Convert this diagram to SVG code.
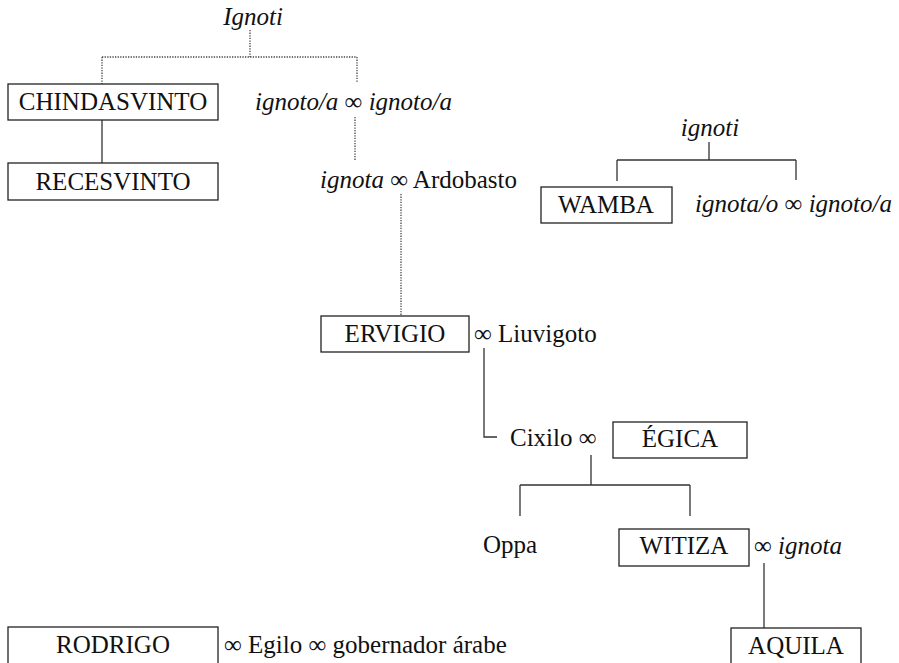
<svg xmlns="http://www.w3.org/2000/svg" width="899" height="663" viewBox="0 0 899 663">
<style>
text{font-family:"Liberation Serif","Times New Roman",serif;font-size:25px;fill:#111}
.i{font-style:italic}
.c{text-anchor:middle}
.box{fill:#fff;stroke:#222;stroke-width:1.3}
.s{fill:none;stroke:#333;stroke-width:1.3}
.d{fill:none;stroke:#444;stroke-width:1.3;stroke-dasharray:1.3 1.3}
</style>
<rect width="899" height="663" fill="#fff"/>
<g id="connectors">
<path class="d" d="M250 30V57M102 57H357M102 57V84M357 57V82"/>
<path class="d" d="M355 117V160"/>
<path class="d" d="M401 194V316"/>
<path class="s" d="M102 120V163"/>
<path class="s" d="M709 142V160M617 160H796M617 160V181M796 160V180"/>
<path class="s" d="M484 348V437H497"/>
<path class="s" d="M591 455V485M520 485H690M520 485V516M690 485V516"/>
<path class="s" d="M764 563V628"/>
</g>
<g id="ignoti-top"><text class="i c" x="253" y="25">Ignoti</text></g>
<g id="chindasvinto"><rect class="box" x="8" y="84" width="210" height="36"/><text class="c" x="113" y="110">CHINDASVINTO</text></g>
<g id="recesvinto"><rect class="box" x="8" y="163" width="210" height="37"/><text class="c" x="113" y="190">RECESVINTO</text></g>
<g id="ignotos"><text x="255" y="110"><tspan class="i">ignoto/a</tspan> ∞ <tspan class="i">ignoto/a</tspan></text></g>
<g id="ardobasto"><text x="320" y="188"><tspan class="i">ignota</tspan> ∞ Ardobasto</text></g>
<g id="ignoti-wamba"><text class="i c" x="710" y="136">ignoti</text></g>
<g id="wamba"><rect class="box" x="541" y="187" width="131" height="36"/><text class="c" x="606" y="213">WAMBA</text></g>
<g id="ignota-o"><text x="695" y="212"><tspan class="i">ignota/o</tspan> ∞ <tspan class="i">ignoto/a</tspan></text></g>
<g id="ervigio"><rect class="box" x="321" y="316" width="148" height="36"/><text class="c" x="395" y="342">ERVIGIO</text><text x="474" y="342">∞ Liuvigoto</text></g>
<g id="cixilo"><text x="510" y="446">Cixilo ∞</text></g>
<g id="egica"><rect class="box" x="613" y="422" width="134" height="36"/><text class="c" x="680" y="447">ÉGICA</text></g>
<g id="oppa"><text x="483" y="553">Oppa</text></g>
<g id="witiza"><rect class="box" x="619" y="529" width="130" height="37"/><text class="c" x="684" y="554">WITIZA</text><text x="754" y="554">∞ <tspan class="i">ignota</tspan></text></g>
<g id="aquila"><rect class="box" x="731" y="628" width="130" height="40"/><text class="c" x="796" y="654">AQUILA</text></g>
<g id="rodrigo"><rect class="box" x="8" y="627" width="210" height="40"/><text class="c" x="113" y="653">RODRIGO</text><text x="224" y="653">∞ Egilo ∞ gobernador árabe</text></g>
</svg>
